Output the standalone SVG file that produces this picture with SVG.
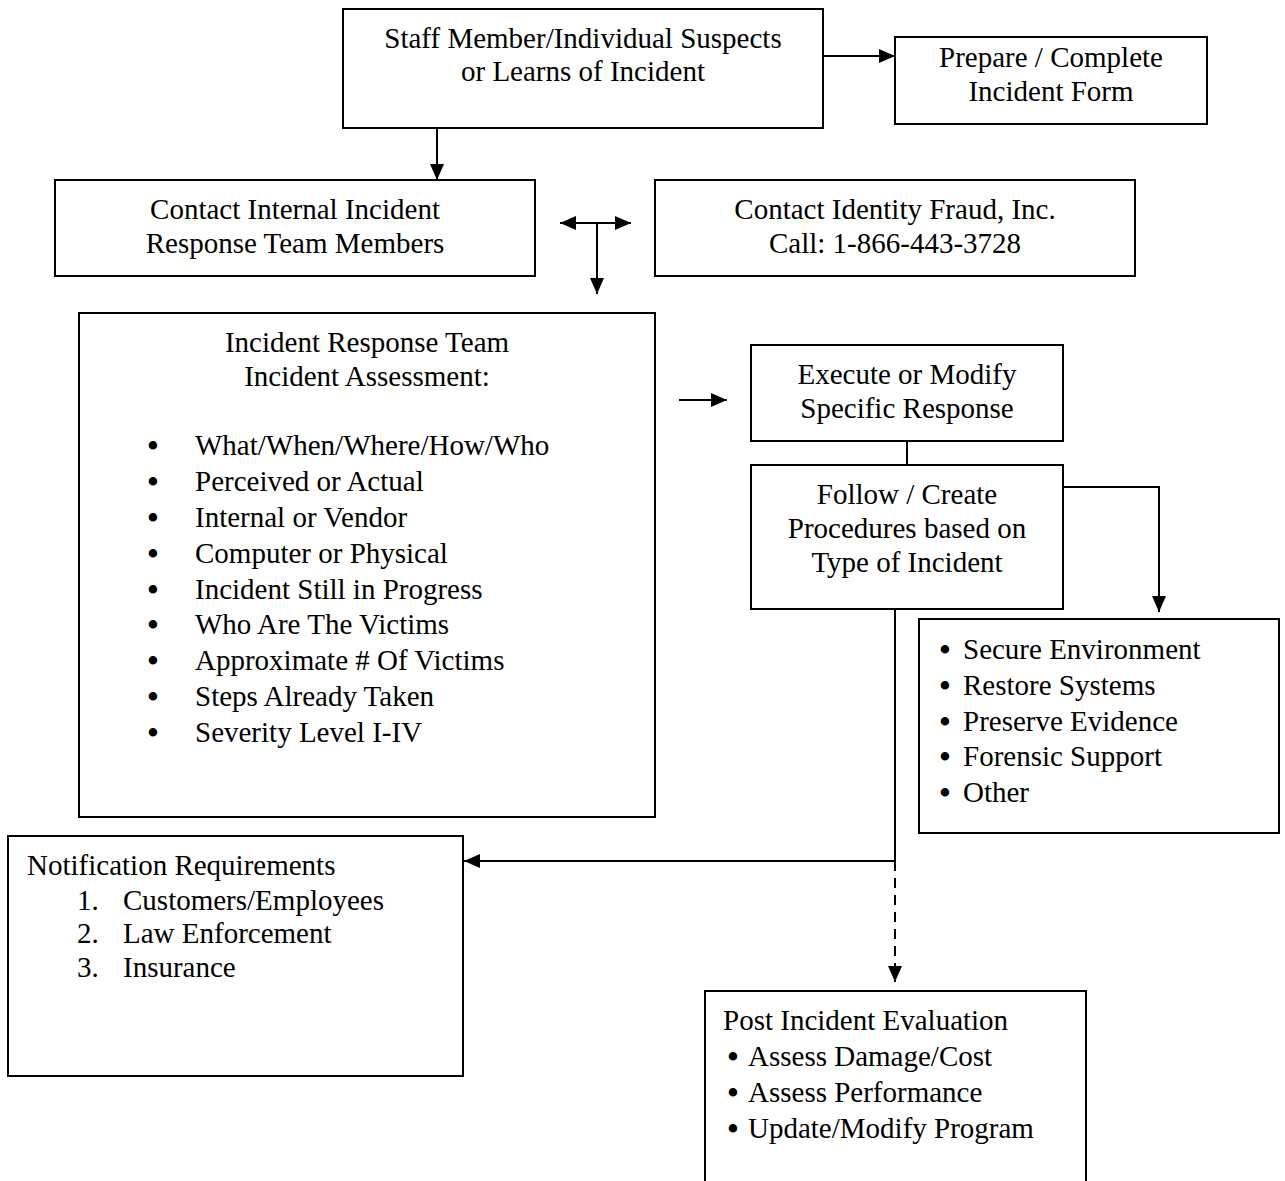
<svg xmlns="http://www.w3.org/2000/svg" width="1285" height="1181" viewBox="0 0 1285 1181">
<style>
.box{fill:#fff;stroke:#000;stroke-width:2}
text{font-family:"Liberation Serif","Times New Roman",serif;font-size:29px;fill:#000}
.c{text-anchor:middle}
.b{font-size:31px;font-weight:bold;text-anchor:middle}
.ln{fill:none;stroke:#000;stroke-width:2}
</style>
<defs>
<marker id="ah" markerUnits="userSpaceOnUse" markerWidth="16" markerHeight="16" viewBox="0 0 16 16" refX="16" refY="8" orient="auto-start-reverse">
<path d="M0,1 L16,8 L0,15 Z" fill="#000"/>
</marker>
</defs>
<rect width="1285" height="1181" fill="#fff"/>
<g id="connectors">
<line class="ln" x1="823" y1="56" x2="895" y2="56" marker-end="url(#ah)"/>
<line class="ln" x1="437" y1="128" x2="437" y2="180" marker-end="url(#ah)"/>
<line class="ln" x1="560" y1="223" x2="631" y2="223" marker-start="url(#ah)" marker-end="url(#ah)"/>
<line class="ln" x1="597" y1="223" x2="597" y2="294" marker-end="url(#ah)"/>
<line class="ln" x1="679" y1="400" x2="727" y2="400" marker-end="url(#ah)"/>
<line class="ln" x1="907" y1="441" x2="907" y2="465"/>
<polyline class="ln" points="1063,487 1159,487 1159,612" marker-end="url(#ah)"/>
<polyline class="ln" points="895,609 895,861 464,861" marker-end="url(#ah)"/>
<line class="ln" x1="895" y1="861" x2="895" y2="982" stroke-width="3" stroke-dasharray="10,7" marker-end="url(#ah)"/>
</g>
<g id="staff">
<rect class="box" x="343" y="9" width="480" height="119"/>
<text class="c" x="583" y="48">Staff Member/Individual Suspects</text>
<text class="c" x="583" y="81">or Learns of Incident</text>
</g>
<g id="prepare">
<rect class="box" x="895" y="37" width="312" height="87"/>
<text class="c" x="1051" y="67">Prepare / Complete</text>
<text class="c" x="1051" y="101">Incident Form</text>
</g>
<g id="contact-internal">
<rect class="box" x="55" y="180" width="480" height="96"/>
<text class="c" x="295" y="219">Contact Internal Incident</text>
<text class="c" x="295" y="253">Response Team Members</text>
</g>
<g id="contact-fraud">
<rect class="box" x="655" y="180" width="480" height="96"/>
<text class="c" x="895" y="219">Contact Identity Fraud, Inc.</text>
<text class="c" x="895" y="253">Call: 1-866-443-3728</text>
</g>
<g id="assessment">
<rect class="box" x="79" y="313" width="576" height="504"/>
<text class="c" x="367" y="352">Incident Response Team</text>
<text class="c" x="367" y="386">Incident Assessment:</text>
<text class="b" x="153" y="456">•</text><text x="195" y="455">What/When/Where/How/Who</text>
<text class="b" x="153" y="492">•</text><text x="195" y="491">Perceived or Actual</text>
<text class="b" x="153" y="528">•</text><text x="195" y="527">Internal or Vendor</text>
<text class="b" x="153" y="564">•</text><text x="195" y="563">Computer or Physical</text>
<text class="b" x="153" y="600">•</text><text x="195" y="599">Incident Still in Progress</text>
<text class="b" x="153" y="635">•</text><text x="195" y="634">Who Are The Victims</text>
<text class="b" x="153" y="671">•</text><text x="195" y="670">Approximate # Of Victims</text>
<text class="b" x="153" y="707">•</text><text x="195" y="706">Steps Already Taken</text>
<text class="b" x="153" y="743">•</text><text x="195" y="742">Severity Level I-IV</text>
</g>
<g id="execute">
<rect class="box" x="751" y="345" width="312" height="96"/>
<text class="c" x="907" y="384">Execute or Modify</text>
<text class="c" x="907" y="418">Specific Response</text>
</g>
<g id="follow">
<rect class="box" x="751" y="465" width="312" height="144"/>
<text class="c" x="907" y="504">Follow / Create</text>
<text class="c" x="907" y="538">Procedures based on</text>
<text class="c" x="907" y="572">Type of Incident</text>
</g>
<g id="secure">
<rect class="box" x="919" y="619" width="360" height="214"/>
<text class="b" x="945" y="660">•</text><text x="963" y="659">Secure Environment</text>
<text class="b" x="945" y="696">•</text><text x="963" y="695">Restore Systems</text>
<text class="b" x="945" y="732">•</text><text x="963" y="731">Preserve Evidence</text>
<text class="b" x="945" y="767">•</text><text x="963" y="766">Forensic Support</text>
<text class="b" x="945" y="803">•</text><text x="963" y="802">Other</text>
</g>
<g id="notification">
<rect class="box" x="8" y="836" width="455" height="240"/>
<text x="27" y="875">Notification Requirements</text>
<text x="77" y="910">1.</text><text x="123" y="910">Customers/Employees</text>
<text x="77" y="943">2.</text><text x="123" y="943">Law Enforcement</text>
<text x="77" y="977">3.</text><text x="123" y="977">Insurance</text>
</g>
<g id="post">
<rect class="box" x="705" y="991" width="381" height="210"/>
<text x="723" y="1030">Post Incident Evaluation</text>
<text class="b" x="733" y="1067">•</text><text x="748" y="1066">Assess Damage/Cost</text>
<text class="b" x="733" y="1103">•</text><text x="748" y="1102">Assess Performance</text>
<text class="b" x="733" y="1139">•</text><text x="748" y="1138">Update/Modify Program</text>
</g>
</svg>
